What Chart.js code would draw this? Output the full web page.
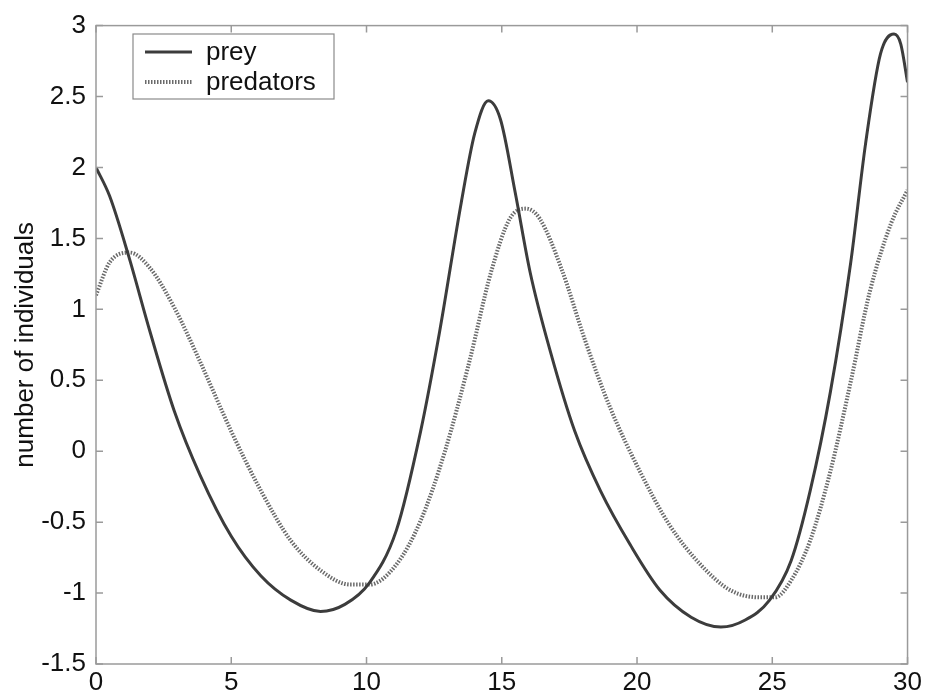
<!DOCTYPE html>
<html>
<head>
<meta charset="utf-8">
<script src="https://cdn.jsdelivr.net/npm/chart.js@4"></script>
<style>
  html, body { margin: 0; padding: 0; background: #ffffff; }
  #wrap { width: 925px; height: 698px; position: relative; }
</style>
</head>
<body>
<div id="wrap"><canvas id="myChart" width="925" height="698"></canvas></div>
<script>
// prey curve
let preyTime = [0, 0.5, 1.2, 2, 2.9, 3.85, 5, 6.1, 7.2, 8.3, 9.2, 10.1, 11.1, 12, 12.7, 13.5, 14, 14.5, 14.95, 15.5, 16.05, 16.8, 17.7, 18.65, 19.75, 20.85, 22, 23.1, 24, 24.9, 25.7, 26.4, 27.15, 27.9, 28.45, 29, 29.5, 29.75, 30];
let preyValues = [2.0, 1.8, 1.38, 0.84, 0.28, -0.17, -0.6, -0.88, -1.05, -1.13, -1.08, -0.93, -0.56, 0.14, 0.84, 1.75, 2.24, 2.47, 2.34, 1.82, 1.26, 0.7, 0.14, -0.28, -0.66, -0.98, -1.17, -1.24, -1.19, -1.05, -0.77, -0.28, 0.42, 1.33, 2.17, 2.8, 2.94, 2.87, 2.6];

// predators curve
let predatorTime = [0, 0.5, 1.25, 2, 2.9, 3.85, 5, 6.1, 7.2, 8.3, 9.4, 10.1, 11.1, 12, 12.9, 13.8, 14.6, 15.3, 15.9, 16.4, 17.2, 18.1, 19, 20.1, 21.2, 22.35, 23.45, 24.55, 25.1, 25.7, 26.4, 27.15, 27.9, 28.6, 29.4, 30];
let predatorValues = [1.1, 1.33, 1.4, 1.29, 1.01, 0.63, 0.14, -0.28, -0.63, -0.84, -0.94, -0.94, -0.8, -0.49, 0, 0.63, 1.26, 1.64, 1.71, 1.64, 1.29, 0.77, 0.31, -0.14, -0.52, -0.8, -0.98, -1.03, -1.03, -0.91, -0.63, -0.14, 0.49, 1.12, 1.61, 1.84];

let seriesLabels = ["prey", "predators"];
let xTicks = [0, 5, 10, 15, 20, 25, 30];
let yTicks = [-1.5, -1, -0.5, 0, 0.5, 1, 1.5, 2, 2.5, 3];
let yTitle = "number of individuals";

const FONT = "'Liberation Sans', Arial, Helvetica, sans-serif";

function toPoints(xs, ys) {
  return xs.map((x, i) => ({ x: x, y: ys[i] }));
}

//TODO: draw the box, inward ticks and the legend inside the plot
const boxPlugin = {
  id: "boxPlugin",
  afterDatasetsDraw(chart) {
    let ctx = chart.ctx;
    let a = chart.chartArea;
    let xs = chart.scales.x;
    let ys = chart.scales.y;
    ctx.save();
    ctx.strokeStyle = "#9a9a9a";
    ctx.lineWidth = 1.5;
    ctx.strokeRect(a.left, a.top, a.right - a.left, a.bottom - a.top);
    ctx.beginPath();
    let len = 7;
    xTicks.forEach((t) => {
      let px = xs.getPixelForValue(t);
      ctx.moveTo(px, a.bottom);
      ctx.lineTo(px, a.bottom - len);
      ctx.moveTo(px, a.top);
      ctx.lineTo(px, a.top + len);
    });
    yTicks.forEach((t) => {
      let py = ys.getPixelForValue(t);
      ctx.moveTo(a.left, py);
      ctx.lineTo(a.left + len, py);
      ctx.moveTo(a.right, py);
      ctx.lineTo(a.right - len, py);
    });
    ctx.stroke();

    // legend box
    let lx = 133, ly = 34, lw = 201, lh = 65;
    ctx.fillStyle = "#ffffff";
    ctx.fillRect(lx, ly, lw, lh);
    ctx.strokeStyle = "#8a8a8a";
    ctx.lineWidth = 1.2;
    ctx.strokeRect(lx, ly, lw, lh);
    chart.data.datasets.forEach((ds, i) => {
      let rowY = ly + 18 + i * 30;
      ctx.beginPath();
      ctx.strokeStyle = ds.borderColor;
      ctx.lineWidth = ds.borderWidth;
      ctx.setLineDash(ds.borderDash || []);
      ctx.moveTo(lx + 12, rowY);
      ctx.lineTo(lx + 59, rowY);
      ctx.stroke();
      ctx.setLineDash([]);
      ctx.fillStyle = "#111111";
      ctx.font = "26px " + FONT;
      ctx.textBaseline = "middle";
      ctx.fillText(ds.label, lx + 73, rowY + 1);
    });
    ctx.restore();
  },
};

let canvas = document.getElementById("myChart").getContext("2d");
let myChart = new Chart(canvas, {
  type: "line",
  data: {
    datasets: [
      {
        label: seriesLabels[0],
        data: toPoints(preyTime, preyValues),
        borderColor: "#3c3c3c",
        borderWidth: 3,
        pointRadius: 0,
        tension: 0.4,
        cubicInterpolationMode: "monotone",
        fill: false,
      },
      {
        label: seriesLabels[1],
        data: toPoints(predatorTime, predatorValues),
        borderColor: "#6a6a6a",
        borderWidth: 4,
        borderDash: [1.5, 1.5],
        pointRadius: 0,
        tension: 0.4,
        cubicInterpolationMode: "monotone",
        fill: false,
      },
    ],
  },
  options: {
    responsive: false,
    animation: false,
    layout: { padding: { top: 21, right: 15, left: 0, bottom: 0 } },
    plugins: {
      legend: { display: false },
      tooltip: { enabled: false },
    },
    scales: {
      x: {
        type: "linear",
        min: 0,
        max: 30,
        afterFit: (s) => { s.height = 34; },
        afterBuildTicks: (s) => { s.ticks = xTicks.map((v) => ({ value: v })); },
        grid: { display: false, drawTicks: false },
        border: { display: false },
        ticks: { color: "#111111", font: { size: 26, family: FONT }, padding: 3, maxRotation: 0, callback: (v) => String(v) },
      },
      y: {
        type: "linear",
        min: -1.5,
        max: 3,
        afterFit: (s) => { s.width = 96; },
        afterBuildTicks: (s) => { s.ticks = yTicks.map((v) => ({ value: v })); },
        grid: { display: false, drawTicks: false },
        border: { display: false },
        ticks: { color: "#111111", font: { size: 26, family: FONT }, padding: 10, callback: (v) => String(v) },
        title: {
          display: true,
          text: yTitle,
          color: "#111111",
          font: { size: 26, family: FONT },
          padding: { top: 10, bottom: 0 },
        },
      },
    },
  },
  plugins: [boxPlugin],
});
</script>
</body>
</html>
